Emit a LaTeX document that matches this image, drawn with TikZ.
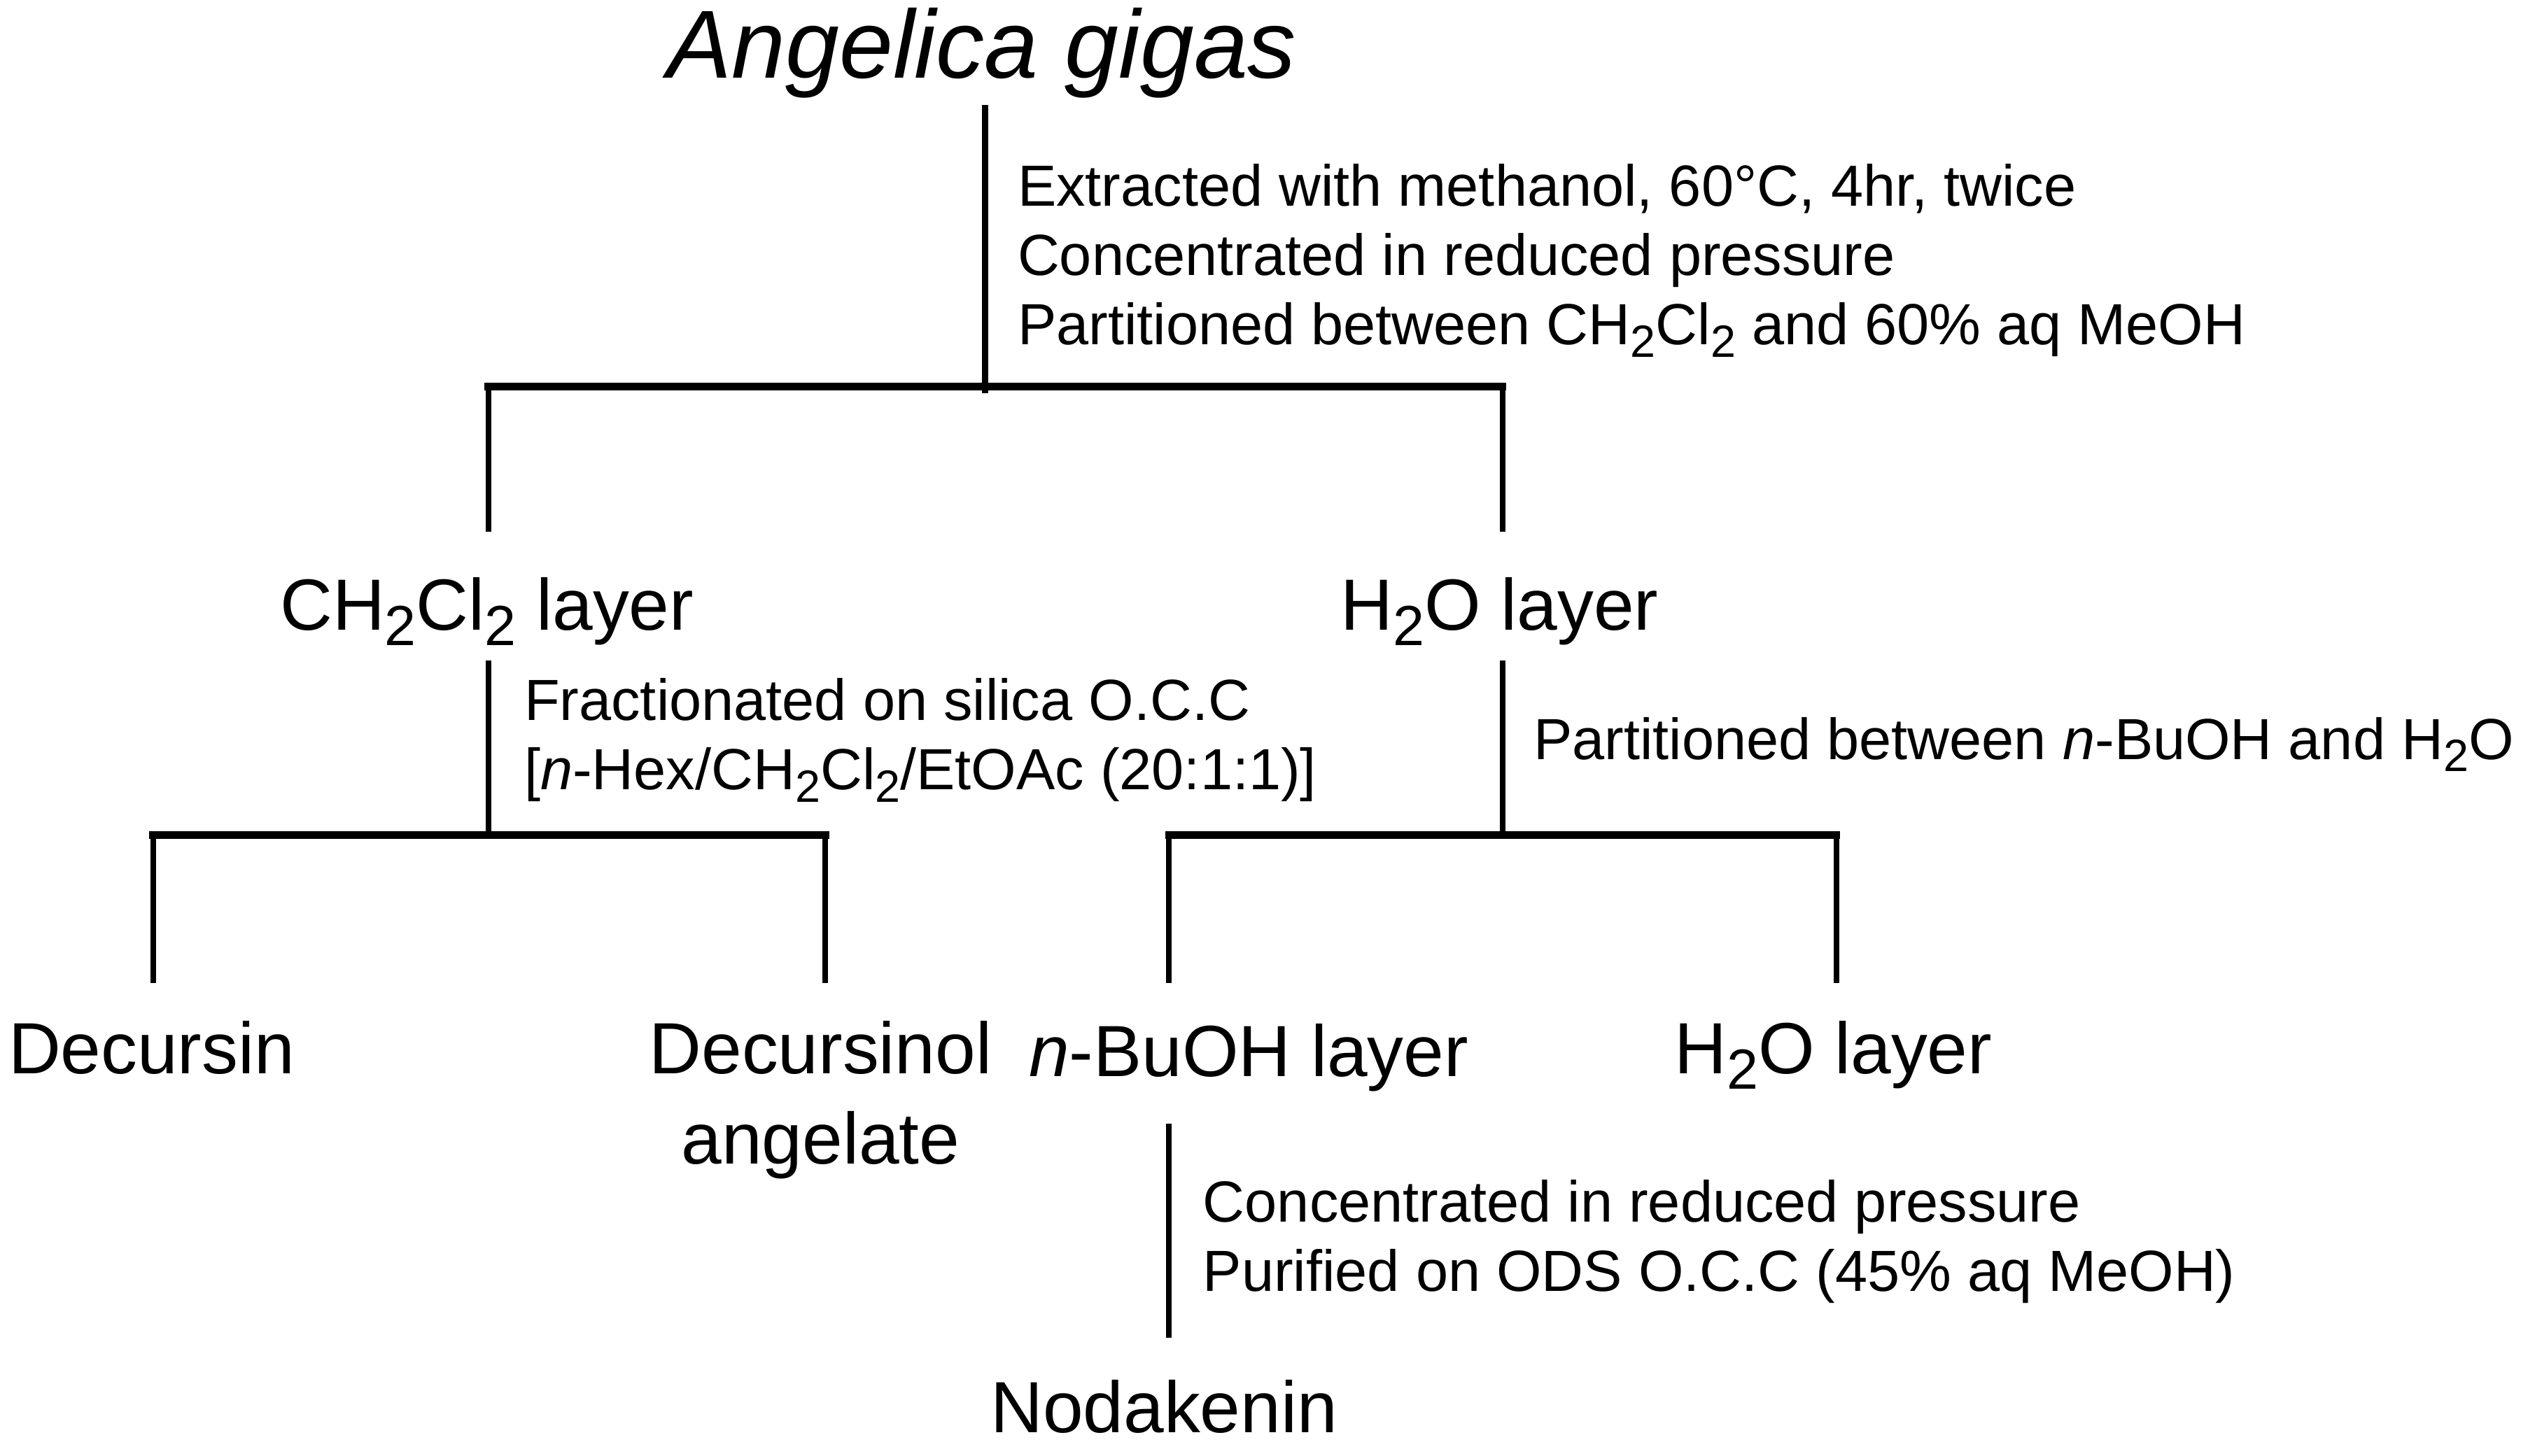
\documentclass[tikz,border=0pt]{standalone}
\usepackage{fontspec}
\setmainfont{Liberation Sans}
\newcommand{\dn}[1]{\raisebox{-0.4ex}{\scalebox{0.78}{#1}}}
\begin{document}
\begin{tikzpicture}[x=1pt,y=-1pt,
 lbl/.style={inner sep=0pt, font=\fontsize{45}{54}\selectfont, anchor=base},
 note/.style={inner sep=0pt, font=\fontsize{36}{43}\selectfont, anchor=base west},
 hbar/.style={line width=4.8pt, line cap=rect},
 vbar/.style={line width=3.5pt}]
\useasboundingbox (0,0) rectangle (1568,903);
% texts
\node[inner sep=0pt, anchor=base, font=\fontsize{60}{72}\selectfont\itshape] (title) at (609,48.5) {Angelica gigas};
\node[note] (s1a) at (631,128) {Extracted with methanol, 60°C, 4hr, twice};
\node[note] (s1b) at (631,171) {Concentrated in reduced pressure};
\node[note] (s1c) at (631,214) {Partitioned between CH\dn{2}Cl\dn{2} and 60\% aq MeOH};
\node[lbl] (ch) at (302,391) {CH\dn{2}Cl\dn{2} layer};
\node[lbl] (wa) at (930,391) {H\dn{2}O layer};
\node[note] (s2a) at (325,447) {Fractionated on silica O.C.C};
\node[note] (s2b) at (325,490) {[\textit{n}-Hex/CH\dn{2}Cl\dn{2}/EtOAc (20:1:1)]};
\node[note] (s3) at (951,471) {Partitioned between \textit{n}-BuOH and H\dn{2}O};
\node[lbl] (dec) at (94,666) {Decursin};
\node[lbl] (da1) at (509,666) {Decursinol};
\node[lbl] (da2) at (509,722) {angelate};
\node[lbl, anchor=base west] (bu) at (638,668) {\textit{n}-BuOH layer};
\node[lbl] (wb) at (1137,666) {H\dn{2}O layer};
\node[note] (s4a) at (746,758) {Concentrated in reduced pressure};
\node[note] (s4b) at (746,801) {Purified on ODS O.C.C (45\% aq MeOH)};
\node[lbl] (nod) at (722,889) {Nodakenin};
% junction coordinates
\coordinate (t0) at (611,65);
\coordinate (j1) at (611,244);
\coordinate (b1l) at (303,240);
\coordinate (b1r) at (932,240);
\coordinate (c1l) at (303,330);
\coordinate (c1r) at (932,330);
\coordinate (t2) at (303,410);
\coordinate (b2l) at (95,518);
\coordinate (b2r) at (512,518);
\coordinate (b2m) at (303,518);
\coordinate (c2l) at (95,610);
\coordinate (c2r) at (512,610);
\coordinate (t3) at (932,410);
\coordinate (b3l) at (725,518);
\coordinate (b3r) at (1139,518);
\coordinate (b3m) at (932,518);
\coordinate (c3l) at (725,610);
\coordinate (c3r) at (1139,610);
\coordinate (t4) at (725,697);
\coordinate (c4) at (725,830);
% lines
\draw[vbar] (t0) -- (j1);
\draw[hbar] (b1l) -- (b1r);
\draw[vbar] (b1l) -- (c1l);
\draw[vbar] (b1r) -- (c1r);
\draw[vbar] (t2) -- (b2m);
\draw[hbar] (b2l) -- (b2r);
\draw[vbar] (b2l) -- (c2l);
\draw[vbar] (b2r) -- (c2r);
\draw[vbar] (t3) -- (b3m);
\draw[hbar] (b3l) -- (b3r);
\draw[vbar] (b3l) -- (c3l);
\draw[vbar] (b3r) -- (c3r);
\draw[vbar] (t4) -- (c4);
\end{tikzpicture}
\end{document}
